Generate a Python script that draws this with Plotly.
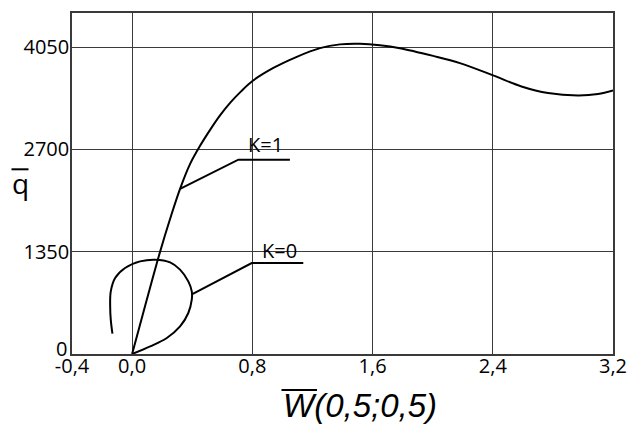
import plotly.graph_objects as go

# K=1 curve
k1_x = [0.0, 0.093, 0.186, 0.253, 0.319, 0.386, 0.452, 0.519, 0.585, 0.652, 0.725, 0.803,
        0.940, 1.096, 1.250, 1.383, 1.516, 1.649, 1.782, 2.003, 2.181, 2.402, 2.591, 2.768,
        2.967, 3.100, 3.200]
k1_y = [0, 683, 1348, 1784, 2179, 2509, 2747, 2958, 3149, 3314, 3466, 3606,
        3775, 3922, 4036, 4086, 4094, 4075, 4036, 3934, 3839, 3677, 3530, 3443,
        3412, 3430, 3478]

# K=0 curve (loop)
k0_x = [0.0, 0.120, 0.231, 0.319, 0.374, 0.397, 0.397, 0.374, 0.319, 0.253, 0.153, 0.053,
        -0.047, -0.113, -0.142, -0.146, -0.142, -0.131]
k0_y = [0, 100, 211, 364, 541, 717, 826, 958, 1113, 1209, 1245, 1222,
        1135, 1003, 826, 628, 453, 268]

# leader lines for the labels
lead1_x = [0.319, 0.707, 1.05]
lead1_y = [2179, 2565, 2565]
lead0_x = [0.404, 0.796, 1.139]
lead0_y = [792, 1201, 1201]

labels = ["K=1", "K=0"]
label_x = [0.89, 0.984]
label_y = [2761, 1365]

x_ticks = [-0.4, 0.0, 0.8, 1.6, 2.4, 3.2]
x_ticktext = ["-0,4", "0,0", "0,8", "1,6", "2,4", "3,2"]
y_ticks = [0, 1350, 2700, 4050]
y_ticktext = ["0", "1350", "2700", "4050"]

FONT = "Open Sans"
line_style = dict(color="black", width=2)

fig = go.Figure()
fig.add_trace(go.Scatter(x=k1_x, y=k1_y, mode="lines", line=dict(shape="spline", **line_style),
                         showlegend=False, hoverinfo="skip"))
fig.add_trace(go.Scatter(x=k0_x, y=k0_y, mode="lines", line=dict(shape="spline", **line_style),
                         showlegend=False, hoverinfo="skip"))
fig.add_trace(go.Scatter(x=lead1_x, y=lead1_y, mode="lines", line=line_style,
                         showlegend=False, hoverinfo="skip"))
fig.add_trace(go.Scatter(x=lead0_x, y=lead0_y, mode="lines", line=line_style,
                         showlegend=False, hoverinfo="skip"))

for t, x, y in zip(labels, label_x, label_y):
    fig.add_annotation(x=x, y=y, text=t, showarrow=False, xanchor="center", yanchor="middle",
                       font=dict(family=FONT, size=20, color="black"))

W, H = 627, 427
L, R, T, B = 72, 14, 13, 73

def px_x(p):
    return (p - L) / (W - L - R)

def px_y(p):
    return 1 - (p - T) / (H - T - B)

# the "0" label of the y axis sits a little higher in the original
fig.add_annotation(x=0, y=y_ticks[0], xref="paper", yref="y", xanchor="right", yanchor="middle",
                   xshift=-3, yshift=6, text=y_ticktext[0], showarrow=False,
                   font=dict(family=FONT, size=20, color="black"))

# axis titles with overline shapes
fig.add_annotation(x=px_x(281), y=px_y(405), xref="paper", yref="paper", xanchor="left",
                   yanchor="middle", text="<i>W(0,5;0,5)</i>", showarrow=False,
                   font=dict(family="Liberation Sans", size=33, color="black"))
fig.add_annotation(x=px_x(20), y=px_y(183), xref="paper", yref="paper", xanchor="center",
                   yanchor="middle", text="q", showarrow=False,
                   font=dict(family=FONT, size=28, color="black"))
fig.add_shape(type="line", xref="paper", yref="paper", x0=px_x(281.5), x1=px_x(317),
              y0=px_y(390), y1=px_y(390), line=dict(color="black", width=2))
fig.add_shape(type="line", xref="paper", yref="paper", x0=px_x(11.5), x1=px_x(28.5),
              y0=px_y(169.3), y1=px_y(169.3), line=dict(color="black", width=2))

grid_col = "#3a3a3a"
fig.update_xaxes(range=[-0.4, 3.20001], tickvals=x_ticks, ticktext=x_ticktext, showgrid=True,
                 gridcolor=grid_col, gridwidth=1, showline=True, linecolor=grid_col, linewidth=1.5,
                 mirror=True, zeroline=False, ticks="", ticklabelstandoff=-7,
                 ticklabeloverflow="allow", automargin=False,
                 tickfont=dict(family=FONT, size=20, color="black"))
fig.update_yaxes(range=[0, 4500], tickvals=y_ticks[1:], ticktext=y_ticktext[1:], showgrid=True,
                 gridcolor=grid_col, gridwidth=1, showline=True, linecolor=grid_col, linewidth=1.5,
                 mirror=True, zeroline=False, ticks="", ticklabelstandoff=-3, automargin=False,
                 tickfont=dict(family=FONT, size=20, color="black"))
fig.update_layout(width=W, height=H, margin=dict(l=L, r=R, t=T, b=B),
                  plot_bgcolor="white", paper_bgcolor="white", showlegend=False)

fig.write_html("out.html")
